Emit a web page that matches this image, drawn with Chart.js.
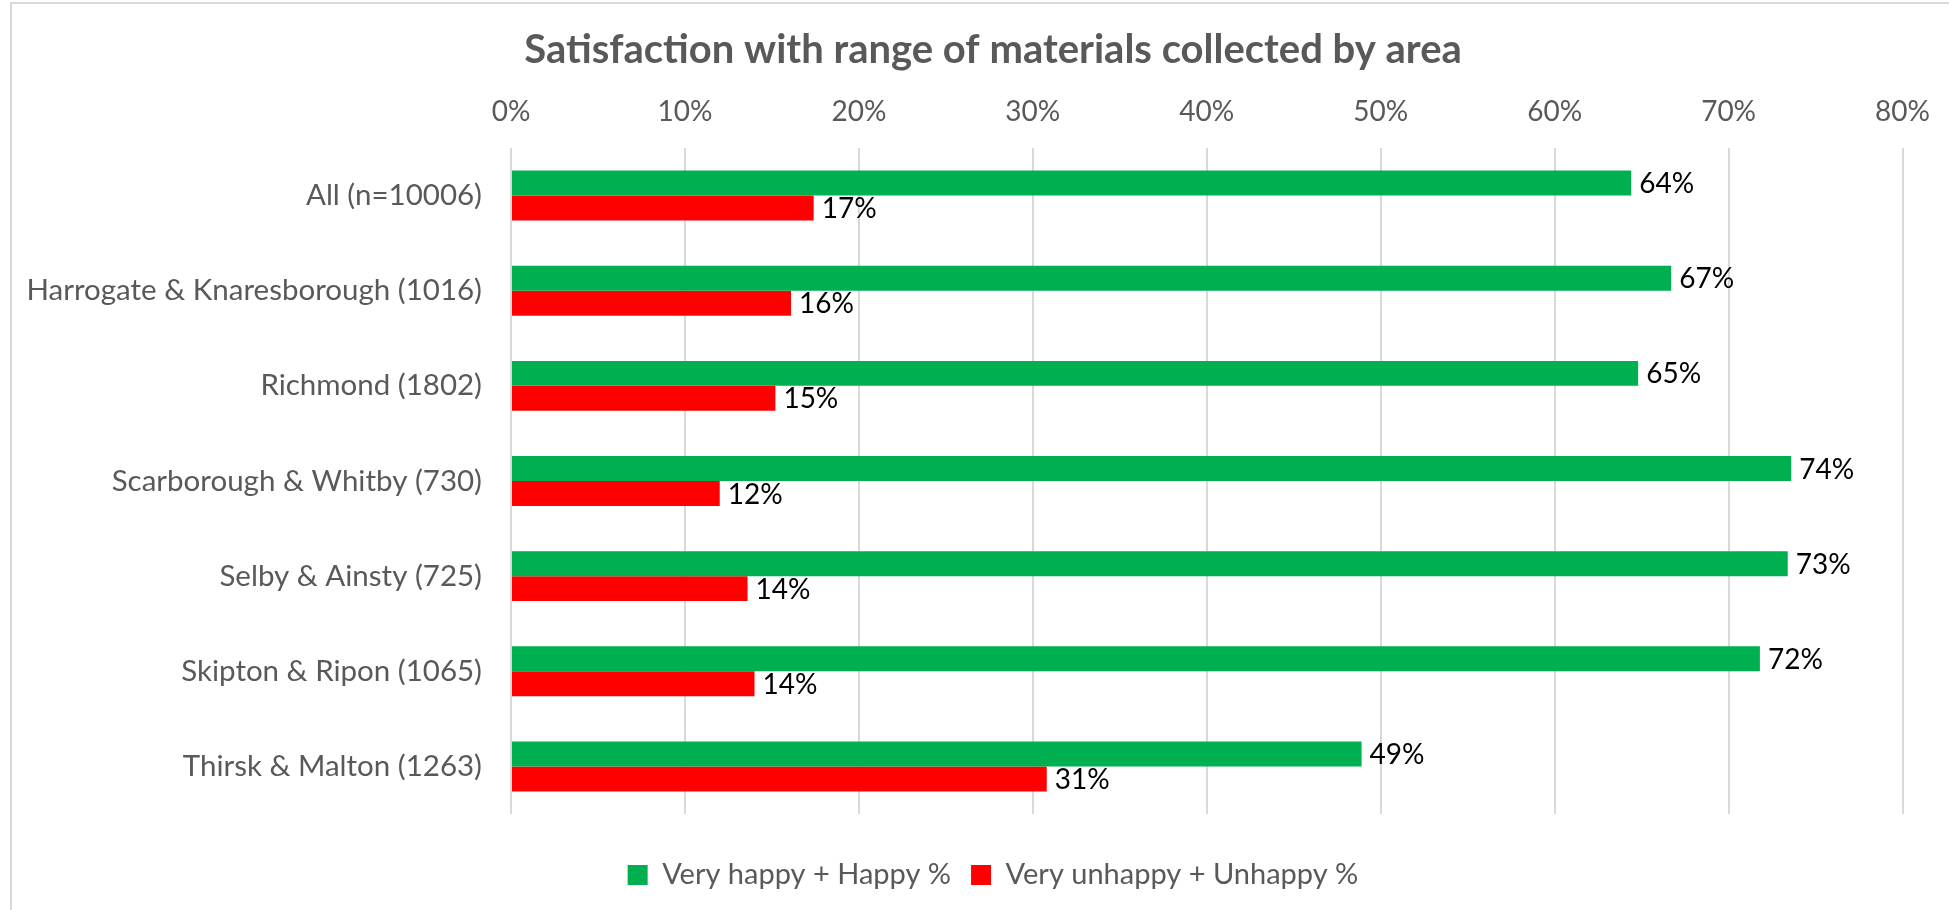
<!DOCTYPE html>
<html>
<head>
<meta charset="utf-8">
<title>Satisfaction with range of materials collected by area</title>
<script src="https://cdn.jsdelivr.net/npm/chart.js@4.4.1/dist/chart.umd.min.js"></script>
<style>
  html, body { margin: 0; padding: 0; background: #fff; overflow: hidden; }
  #wrap { position: relative; width: 1949px; height: 910px; }
  #frame { position: absolute; left: 10px; top: 2px; width: 2000px; height: 1000px;
           border-left: 2px solid #d9d9d9; border-top: 2px solid #d9d9d9; }
  canvas { position: absolute; left: 0; top: 0; }
</style>
</head>
<body>
<div id="wrap">
  <div id="frame"></div>
  <canvas id="chart" width="1949" height="910"></canvas>
</div>
<script>
// data
const areas = [
  'All (n=10006)',
  'Harrogate & Knaresborough (1016)',
  'Richmond (1802)',
  'Scarborough & Whitby (730)',
  'Selby & Ainsty (725)',
  'Skipton & Ripon (1065)',
  'Thirsk & Malton (1263)'
];
const happy   = [64.4, 66.7, 64.8, 73.6, 73.4, 71.8, 48.9];
const unhappy = [17.4, 16.1, 15.2, 12.0, 13.6, 14.0, 30.8];
const seriesNames = ['Very happy + Happy %', 'Very unhappy + Unhappy %'];
const axisMin = 0, axisMax = 80, axisStep = 10;

const GREEN = '#00B050';
const RED = '#FF0000';
const GREY_TEXT = '#595959';
const FONT = 'Lato, "Open Sans", sans-serif';

// long category names run past the padded area, so don't clip them
const noLabelClip = {
  id: 'noLabelClip',
  afterLayout(chart){
    chart.scales.y._computeLabelArea = () => undefined;
  }
};

// value labels at the end of each bar
const barLabels = {
  id: 'barLabels',
  afterDatasetsDraw(chart){
    const ctx = chart.ctx;
    ctx.save();
    ctx.font = '28px ' + FONT;
    ctx.fillStyle = '#000';
    ctx.textAlign = 'left';
    ctx.textBaseline = 'middle';
    chart.data.datasets.forEach((ds, i) => {
      const meta = chart.getDatasetMeta(i);
      meta.data.forEach((bar, j) => {
        ctx.fillText(Math.round(ds.data[j]) + '%', bar.x + 8, bar.y + 1);
      });
    });
    ctx.restore();
  }
};

new Chart(document.getElementById('chart'), {
  type: 'bar',
  data: {
    labels: areas,
    datasets: [
      { label: seriesNames[0], data: happy, backgroundColor: GREEN, borderWidth: 0,
        categoryPercentage: 0.525, barPercentage: 1 },
      { label: seriesNames[1], data: unhappy, backgroundColor: RED, borderWidth: 0,
        categoryPercentage: 0.525, barPercentage: 1 }
    ]
  },
  options: {
    indexAxis: 'y',
    responsive: false,
    animation: false,
    layout: { padding: { left: 80, right: 43, top: 0, bottom: 10.5 } },
    scales: {
      x: {
        position: 'top',
        min: axisMin, max: axisMax,
        ticks: {
          stepSize: axisStep,
          callback: v => v + '%',
          font: { family: FONT, size: 28 },
          color: GREY_TEXT,
          padding: 19
        },
        grid: { color: '#d9d9d9', lineWidth: 2, drawTicks: false },
        border: { display: false },
        afterFit: s => { s.height = 64; }
      },
      xb: {
        axis: 'x',
        position: 'bottom',
        display: true,
        ticks: { display: false },
        grid: { display: false, drawTicks: false },
        border: { display: false },
        afterFit: s => { s.height = 26.5; }
      },
      y: {
        ticks: {
          font: { family: FONT, size: 29.5 },
          color: GREY_TEXT,
          padding: 29
        },
        grid: { display: false, drawTicks: false },
        border: { display: false },
        afterFit: s => { s.width = 431; }
      }
    },
    plugins: {
      title: {
        display: true,
        text: 'Satisfaction with range of materials collected by area',
        font: { family: FONT, size: 40, weight: 'bold' },
        color: GREY_TEXT,
        padding: { top: 26, bottom: 10 }
      },
      legend: {
        position: 'bottom',
        labels: {
          boxWidth: 20, boxHeight: 20,
          font: { family: FONT, size: 29 },
          color: GREY_TEXT,
          padding: 20
        }
      },
      tooltip: { enabled: false }
    }
  },
  plugins: [noLabelClip, barLabels]
});
</script>
</body>
</html>
